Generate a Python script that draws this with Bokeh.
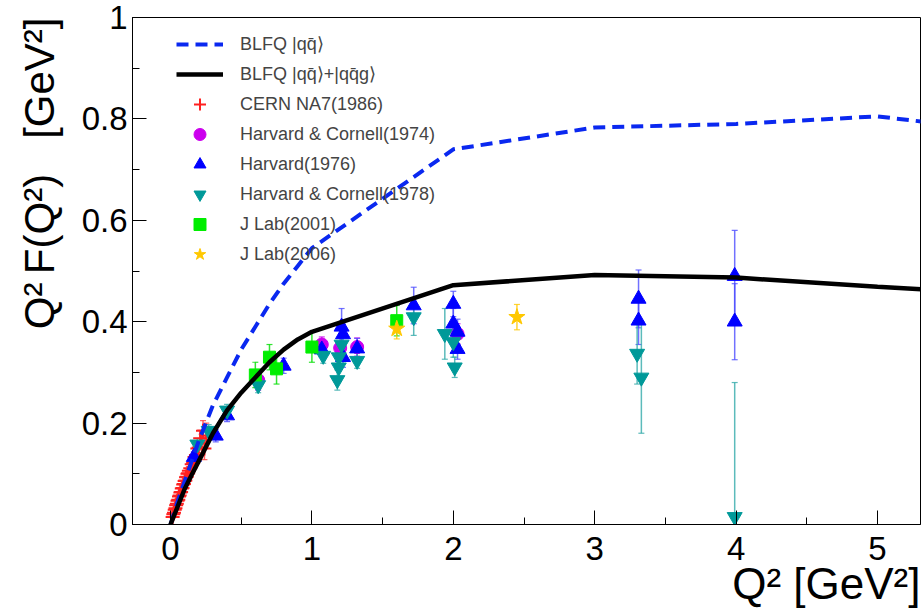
import math
from bokeh.plotting import figure
from bokeh.models import (ColumnDataSource, Whisker, TeeHead, Legend, LegendItem,
                          FixedTicker, NumeralTickFormatter, Title, Range1d)
from bokeh.embed import file_html
from bokeh.resources import INLINE

# ---------------- data ----------------
theory_q2 = [0.0, 0.05, 0.1, 0.15, 0.2, 0.3, 0.4, 0.5, 0.6, 0.7, 0.8, 0.9, 1.0, 2.0, 3.0, 4.0, 5.0, 6.0]
blfq_qq = [0.0, 0.045, 0.085, 0.125, 0.165, 0.235, 0.29, 0.345, 0.39, 0.435, 0.475, 0.51, 0.545, 0.74, 0.783, 0.79, 0.805, 0.772]
blfq_full = [0.0, 0.035, 0.07, 0.098, 0.125, 0.18, 0.225, 0.26, 0.29, 0.32, 0.345, 0.365, 0.38, 0.472, 0.492, 0.487, 0.469, 0.452]

na7_q2 = [0.015, 0.020, 0.025, 0.030, 0.035, 0.040, 0.045, 0.050, 0.055, 0.060, 0.065, 0.070,
          0.075, 0.080, 0.085, 0.090, 0.095, 0.100, 0.105, 0.110, 0.115, 0.120, 0.125, 0.130,
          0.140, 0.150, 0.160, 0.170, 0.180, 0.190, 0.200, 0.210, 0.220, 0.230, 0.240, 0.253]
na7_y = [0.015, 0.020, 0.023, 0.029, 0.032, 0.038, 0.041, 0.047, 0.049, 0.055, 0.057, 0.063,
         0.064, 0.071, 0.072, 0.079, 0.080, 0.086, 0.087, 0.093, 0.094, 0.100, 0.101, 0.106,
         0.111, 0.119, 0.122, 0.133, 0.137, 0.150, 0.152, 0.170, 0.160, 0.185, 0.150, 0.175]
na7_err = [0.002, 0.002, 0.002, 0.003, 0.003, 0.003, 0.003, 0.004, 0.004, 0.004, 0.004, 0.005,
           0.005, 0.005, 0.005, 0.006, 0.006, 0.006, 0.006, 0.007, 0.007, 0.007, 0.008, 0.008,
           0.008, 0.009, 0.010, 0.011, 0.012, 0.013, 0.014, 0.016, 0.018, 0.020, 0.022, 0.025]

hc74_q2 = [0.62, 1.07, 1.20, 1.32, 2.03]
hc74_y = [0.285, 0.355, 0.348, 0.350, 0.376]
hc74_err = [0.02, 0.015, 0.02, 0.018, 0.02]

h76_q2 = [0.165, 0.32, 0.40, 0.80, 1.07, 1.21, 1.22, 1.22, 1.32, 1.72, 2.00, 2.00, 2.03, 2.03, 3.31, 3.31, 3.99, 3.99]
h76_y = [0.133, 0.175, 0.215, 0.313, 0.345, 0.390, 0.375, 0.330, 0.347, 0.432, 0.435, 0.396, 0.380, 0.346, 0.445, 0.402, 0.490, 0.400]
h76_err = [0.010, 0.012, 0.012, 0.015, 0.015, 0.036, 0.020, 0.020, 0.020, 0.036, 0.025, 0.030, 0.025, 0.020, 0.057, 0.047, 0.090, 0.075]

hc78_q2 = [0.19, 0.27, 0.40, 0.62, 1.08, 1.21, 1.19, 1.19, 1.18, 1.32, 1.72, 1.94, 2.00, 2.01, 3.30, 3.33, 3.99]
hc78_y = [0.158, 0.185, 0.225, 0.275, 0.333, 0.355, 0.330, 0.310, 0.285, 0.323, 0.409, 0.376, 0.360, 0.310, 0.337, 0.290, 0.015]
hc78_err = [0.012, 0.012, 0.012, 0.015, 0.015, 0.020, 0.020, 0.020, 0.020, 0.015, 0.036, 0.050, 0.030, 0.020, 0.060, 0.110, 0.265]

jl01_q2 = [0.60, 0.70, 0.75, 1.00, 1.60]
jl01_y = [0.295, 0.330, 0.307, 0.350, 0.402]
jl01_err = [0.025, 0.025, 0.030, 0.030, 0.030]

jl06_q2 = [1.60, 2.45]
jl06_y = [0.386, 0.409]
jl06_err = [0.020, 0.025]

x_ticks = [0, 1, 2, 3, 4, 5]
y_ticks = [0, 0.2, 0.4, 0.6, 0.8, 1.0]
x_title = "Q\u00b2 [GeV\u00b2]"
y_title = "Q\u00b2\u2009F(Q\u00b2)\u00a0\u00a0\u00a0[GeV\u00b2]"

# ---------------- figure ----------------
FONT = "Liberation Sans"
p = figure(width=923, height=615, output_backend="svg", toolbar_location=None,
           x_range=Range1d(-0.2687, 5.304), y_range=Range1d(0, 1),
           min_border_left=132, min_border_right=3, min_border_top=17, min_border_bottom=91)
p.xgrid.visible = False
p.ygrid.visible = False
p.outline_line_color = "black"
p.outline_line_width = 1
p.background_fill_color = "white"
p.border_fill_color = "white"

for ax in (p.xaxis[0], p.yaxis[0]):
    ax.major_tick_in = 14
    ax.major_tick_out = 0
    ax.minor_tick_in = 7
    ax.minor_tick_out = 0
    ax.axis_line_color = "black"
    ax.major_tick_line_color = "black"
    ax.minor_tick_line_color = "black"
    ax.major_label_text_font = FONT
    ax.major_label_text_font_size = "33px"
    ax.major_label_text_color = "black"
    ax.formatter = NumeralTickFormatter(format="0.[0]")

p.xaxis.ticker = FixedTicker(ticks=x_ticks, minor_ticks=[i * 0.5 for i in range(0, 11)])
p.yaxis.ticker = FixedTicker(ticks=y_ticks, minor_ticks=[i * 0.1 for i in range(0, 11)])
p.xaxis.major_label_standoff = 12
p.yaxis.major_label_standoff = 5


def series(q2, y, err, color, marker, size, err_color, lw=1.0):
    src = ColumnDataSource(dict(x=q2, y=y,
                                lo=[a - b for a, b in zip(y, err)],
                                hi=[a + b for a, b in zip(y, err)]))
    w = Whisker(base="x", lower="lo", upper="hi", source=src, dimension="height",
                line_color=err_color, line_width=1.5, line_alpha=0.8,
                upper_head=TeeHead(size=6, line_color=err_color, line_width=1.2, line_alpha=0.8),
                lower_head=TeeHead(size=6, line_color=err_color, line_width=1.2, line_alpha=0.8))
    p.add_layout(w)
    return p.scatter("x", "y", source=src, marker=marker, size=size,
                     fill_color=color, line_color=color, line_width=lw)

r_na7 = series(na7_q2, na7_y, na7_err, "#ff2020", "cross", 14, "#ff4040", lw=2)
r_hc74 = series(hc74_q2, hc74_y, hc74_err, "#cc00ee", "circle", 13, "#cc00ee")
r_h76 = series(h76_q2, h76_y, h76_err, "#0000ff", "triangle", 15, "#4d4dff")
r_hc78 = series(hc78_q2, hc78_y, hc78_err, "#009999", "inverted_triangle", 15, "#33aaaa")
r_jl01 = series(jl01_q2, jl01_y, jl01_err, "#00ee00", "square", 12, "#00dd00")
r_jl06 = series(jl06_q2, jl06_y, jl06_err, "#ffc800", "star", 17, "#ffc800")

r_qq = p.line(theory_q2, blfq_qq, line_color="#0a28f0", line_width=4, line_dash="12 7")
r_full = p.line(theory_q2, blfq_full, line_color="black", line_width=4.5)

legend = Legend(items=[
    LegendItem(label="BLFQ |qq\u0304\u27e9", renderers=[r_qq]),
    LegendItem(label="BLFQ |qq\u0304\u27e9+|qq\u0304g\u27e9", renderers=[r_full]),
    LegendItem(label="CERN NA7(1986)", renderers=[r_na7]),
    LegendItem(label="Harvard & Cornell(1974)", renderers=[r_hc74]),
    LegendItem(label="Harvard(1976)", renderers=[r_h76]),
    LegendItem(label="Harvard & Cornell(1978)", renderers=[r_hc78]),
    LegendItem(label="J Lab(2001)", renderers=[r_jl01]),
    LegendItem(label="J Lab(2006)", renderers=[r_jl06]),
], location=(44, 255))
legend.border_line_color = None
legend.background_fill_alpha = 0
legend.label_text_font = FONT
legend.label_text_font_size = "18px"
legend.glyph_width = 47
legend.glyph_height = 30
legend.label_height = 30
legend.spacing = 0
legend.padding = 5
legend.margin = 0
legend.label_standoff = 17
p.add_layout(legend)

ylab = Title(text=y_title, align="right", vertical_align="top", text_font=FONT,
             text_font_size="42px", text_font_style="normal", text_color="black", standoff=28)
xlab = Title(text=x_title, align="right", text_font=FONT, text_font_size="44px",
             text_font_style="normal", text_color="black", standoff=-11)
p.add_layout(ylab, "left")
p.add_layout(xlab, "below")

open("out.html", "w").write(file_html(p, INLINE))
